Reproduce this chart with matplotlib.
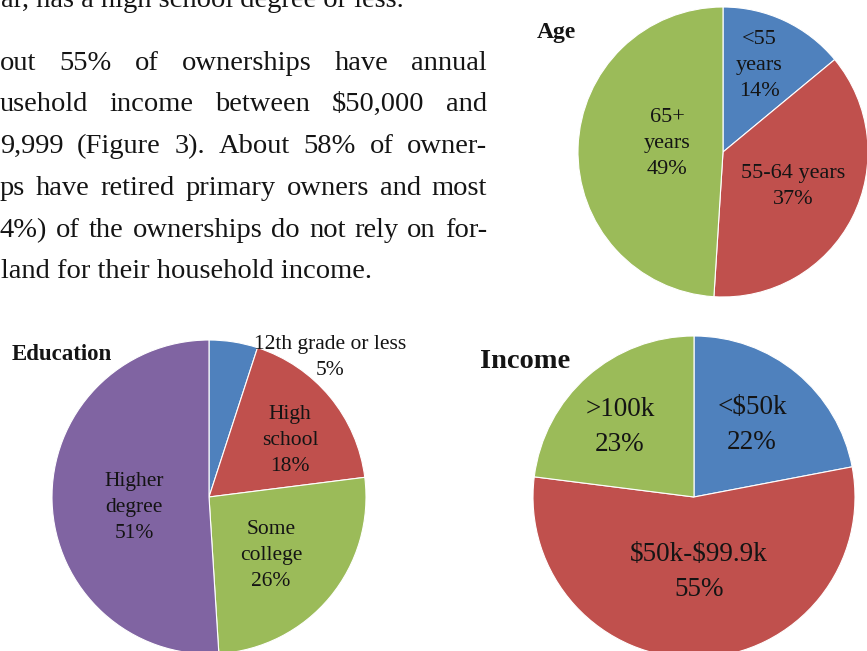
import matplotlib
matplotlib.use("Agg")
import matplotlib.pyplot as plt

# Pie data (Figure 3: ownership characteristics)
age_labels = ["<55\nyears", "55-64 years", "65+\nyears"]
age_values = [14, 37, 49]

edu_labels = ["12th grade or less", "High\nschool", "Some\ncollege", "Higher\ndegree"]
edu_values = [5, 18, 26, 51]

inc_labels = ["<$50k", "$50k-$99.9k", ">100k"]
inc_values = [22, 55, 23]

# Paragraph lines as visible on the cropped page
para_lines = [
    "ar, has a high school degree or less.",
    "out 55% of ownerships have annual",
    "usehold income between $50,000 and",
    "9,999 (Figure 3). About 58% of owner-",
    "ps have retired primary owners and most",
    "4%) of the ownerships do not rely on for-",
    "land for their household income.",
]
para_justify = [False, True, True, True, True, True, False]

BLUE, RED, GREEN, PURPLE = "#4F81BD", "#C0504D", "#9BBB59", "#8064A2"
SERIF = "Liberation Serif"
INK = "#141414"
W, H = 867, 651

fig = plt.figure(figsize=(W / 100, H / 100), dpi=100)
renderer = fig.canvas.get_renderer()


def fx(x):
    return x / W


def fy(y):
    return 1 - y / H


# ---- paragraph text, justified between left and right margins ----
left, right = 0, 487
baselines = [7, 70, 111, 153, 195, 237, 278]
psize = 20.5
for line, just, yb in zip(para_lines, para_justify, baselines):
    if not just:
        fig.text(fx(left + 1), fy(yb), line, family=SERIF, size=psize,
                 va="baseline", ha="left", color=INK, parse_math=False)
        continue
    words = line.split(" ")
    widths = []
    for w in words:
        t = fig.text(0, 0, w, family=SERIF, size=psize, parse_math=False)
        widths.append(t.get_window_extent(renderer).width)
        t.remove()
    gap = (right - left - sum(widths)) / (len(words) - 1)
    x = left
    for w, wd in zip(words, widths):
        fig.text(fx(x), fy(yb), w, family=SERIF, size=psize,
                 va="baseline", ha="left", color=INK, parse_math=False)
        x += wd + gap


def draw_pie(cx, cy, r, values, labels, colors, pos, size, lsp):
    ax = fig.add_axes([fx(cx - r), fy(cy + r), 2 * r / W, 2 * r / H])
    ax.pie(values, colors=colors, startangle=90, counterclock=False,
           radius=1, wedgeprops=dict(edgecolor="white", linewidth=0.8))
    ax.set_xlim(-1, 1)
    ax.set_ylim(-1, 1)
    ax.axis("off")
    for lab, v, (x, y) in zip(labels, values, pos):
        ax.text(x, y, f"{lab}\n{v}%", ha="center", va="center",
                family=SERIF, size=size, linespacing=lsp, color=INK,
                parse_math=False)
    return ax


# Age
draw_pie(723, 152, 145, age_values, age_labels, [BLUE, RED, GREEN],
         [(0.25, 0.595), (0.483, -0.24), (-0.386, 0.062)], 16, 1.5)
fig.text(fx(537), fy(38), "Age", family=SERIF, weight="bold", size=17,
         va="baseline", color=INK)

# Education
draw_pie(209, 497, 157, edu_values, edu_labels, [BLUE, RED, GREEN, PURPLE],
         [(0.77, 0.89), (0.516, 0.363), (0.395, -0.37), (-0.478, -0.07)],
         15.5, 1.5)
fig.text(fx(12), fy(360), "Education", family=SERIF, weight="bold", size=16.5,
         va="baseline", color=INK)

# Income
draw_pie(694, 497, 161, inc_values, inc_labels, [BLUE, RED, GREEN],
         [(0.36, 0.447), (0.031, -0.466), (-0.46, 0.435)], 19.5, 1.5)
fig.text(fx(480), fy(368), "Income", family=SERIF, weight="bold", size=20.5,
         va="baseline", color=INK)

fig.savefig("out.png", dpi=100)
